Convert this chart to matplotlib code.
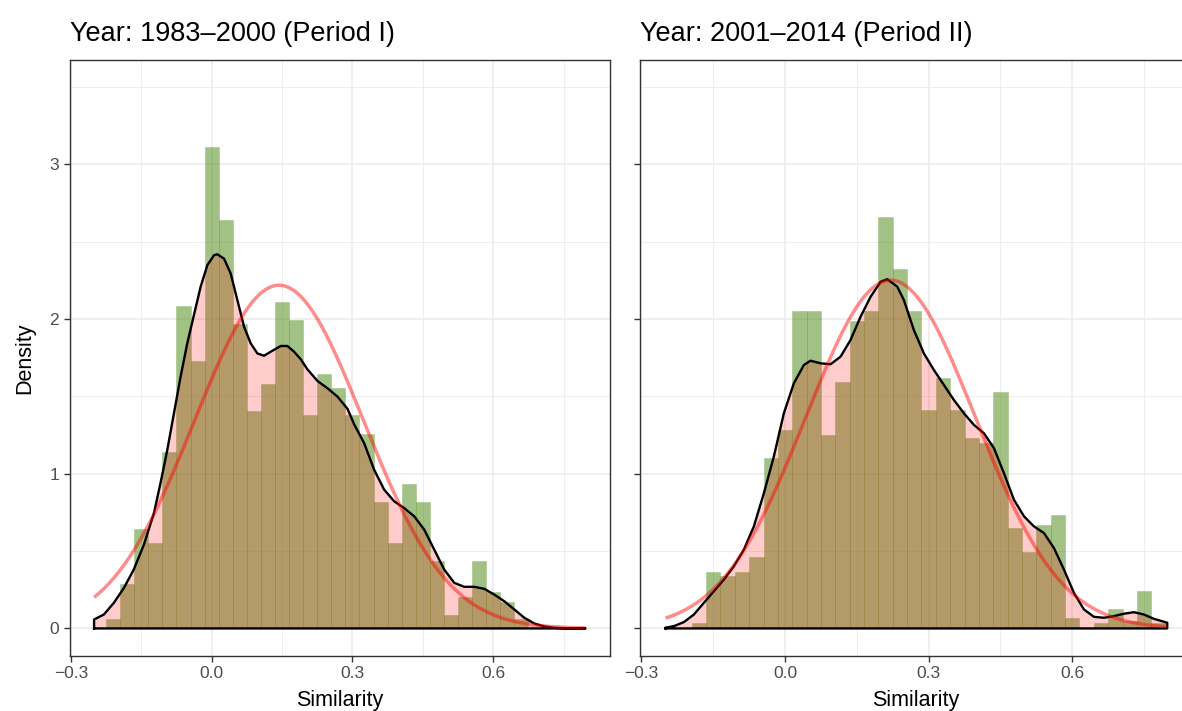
import numpy as np
import matplotlib
matplotlib.use("Agg")
import matplotlib.pyplot as plt
from matplotlib.ticker import MultipleLocator

plt.rcParams['font.family'] = ['Liberation Sans', 'DejaVu Sans']

# ---- data -------------------------------------------------------------
bin_width = 0.03

# Period I histogram (density scale)
p1_bin_start = -0.225
p1_hist = [0.058, 0.29, 0.645, 0.555, 1.142, 2.084, 1.731, 3.11, 2.639, 1.968,
           1.406, 1.581, 2.11, 1.994, 1.381, 1.645, 1.555, 1.381, 1.258, 0.819,
           0.555, 0.935, 0.819, 0.437, 0.09, 0.206, 0.437, 0.234, 0.174, 0.058]

# Period I kernel density estimate
p1_kde_x = [-0.2506, -0.2506, -0.2297, -0.2084, -0.187, -0.166, -0.1444, -0.123,
            -0.109, -0.0945, -0.0804, -0.0662, -0.052, -0.0378, -0.0235, -0.0093,
            0.005, 0.0121, 0.0263, 0.0405, 0.0548, 0.069, 0.0832, 0.0974, 0.1116,
            0.1259, 0.1472, 0.1614, 0.1757, 0.1899, 0.2041, 0.2255, 0.2468, 0.2681,
            0.2895, 0.3037, 0.325, 0.3463, 0.3677, 0.389, 0.4103, 0.4317, 0.453,
            0.4743, 0.4956, 0.517, 0.5383, 0.5596, 0.581, 0.6023, 0.6236, 0.645,
            0.6663, 0.6876, 0.709, 0.7303, 0.76, 0.7967, 0.7967]
p1_kde_y = [0.0, 0.058, 0.09, 0.166, 0.262, 0.381, 0.542, 0.746,
            0.94, 1.155, 1.391, 1.628, 1.843, 2.026, 2.209, 2.348,
            2.413, 2.419, 2.391, 2.295, 2.123, 1.951, 1.843, 1.778, 1.763,
            1.789, 1.826, 1.826, 1.789, 1.74, 1.675, 1.6, 1.553, 1.499,
            1.42, 1.32, 1.198, 1.026, 0.897, 0.822, 0.778, 0.725, 0.639,
            0.51, 0.381, 0.295, 0.269, 0.269, 0.256, 0.219, 0.176, 0.123,
            0.069, 0.032, 0.013, 0.004, 0.001, 0.0, 0.0]

# Period I normal fit
p1_mean, p1_sd = 0.1436, 0.1798

# Period II histogram (density scale)
p2_bin_start = -0.195
p2_hist = [0.032, 0.368, 0.338, 0.368, 0.46, 1.103, 1.284, 2.052, 2.052, 1.252,
           1.596, 1.987, 2.052, 2.658, 2.323, 2.052, 1.409, 1.619, 1.409, 1.228,
           1.198, 1.529, 0.647, 0.492, 0.669, 0.735, 0.065, 0.0, 0.034, 0.123,
           0.047, 0.245, 0.032]

# Period II kernel density estimate
p2_kde_x = [-0.2496, -0.2496, -0.2322, -0.2113, -0.1904, -0.1695, -0.1486, -0.1278,
            -0.1069, -0.086, -0.0651, -0.0442, -0.0234, -0.0025, 0.0184, 0.0393,
            0.0532, 0.0741, 0.095, 0.1159, 0.1368, 0.1577, 0.1786, 0.1995, 0.2134,
            0.2343, 0.2482, 0.2691, 0.29, 0.3109, 0.3318, 0.3527, 0.3736, 0.3945,
            0.4154, 0.4363, 0.4572, 0.4781, 0.499, 0.5198, 0.5407, 0.5616, 0.5825,
            0.6034, 0.6243, 0.6452, 0.6661, 0.687, 0.7078, 0.7287, 0.7496, 0.7705,
            0.7983, 0.7983]
p2_kde_y = [0.0, 0.005, 0.015, 0.041, 0.09, 0.166, 0.241, 0.316,
            0.402, 0.51, 0.66, 0.875, 1.112, 1.391, 1.585, 1.703,
            1.731, 1.714, 1.708, 1.757, 1.865, 2.015, 2.144, 2.241, 2.258,
            2.21, 2.123, 1.929, 1.778, 1.671, 1.574, 1.477, 1.391, 1.316,
            1.262, 1.166, 1.004, 0.832, 0.725, 0.66, 0.617, 0.52, 0.381,
            0.23, 0.123, 0.075, 0.069, 0.08, 0.095, 0.105, 0.09, 0.062,
            0.037, 0.0]

# Period II normal fit
p2_mean, p2_sd = 0.2204, 0.1772

titles = ["Year: 1983\u20132000 (Period I)", "Year: 2001\u20132014 (Period II)"]
x_label = "Similarity"
y_label = "Density"

# ---- styling ----------------------------------------------------------
W, H = 1182, 711
xlim = (-0.303, 0.849)
ylim = (-0.175, 3.675)
bar_color = (70 / 255, 133 / 255, 10 / 255, 0.5)
bar_edge = (70 / 255, 133 / 255, 10 / 255, 0.35)
fill_color = (1.0, 0.0, 0.0, 0.2)
norm_color = (1.0, 0.0, 0.0, 0.45)
grid_color = "#EBEBEB"
tick_text = "#4D4D4D"
frame = "#333333"

fig = plt.figure(figsize=(W / 100, H / 100), dpi=100)
bottom = (H - 655.5) / H
height = 595.5 / H
axL = fig.add_axes([69.5 / W, bottom, (610 - 69.5) / W, height])
axR = fig.add_axes([640 / W, bottom, 551.5 / W, height])


def draw_panel(ax, start, hist, kx, ky, mu, sd, title, show_ylabels):
    lefts = start + bin_width * np.arange(len(hist))
    ax.bar(lefts, hist, width=bin_width, align="edge", color=bar_color,
           edgecolor=bar_edge, linewidth=0.4, zorder=2)
    ax.fill(kx, ky, facecolor=fill_color, edgecolor="none", zorder=3)
    ax.plot(kx + [kx[0]], ky + [ky[0]], color="black", lw=1.7, zorder=4,
            solid_joinstyle="round")
    xs = np.linspace(kx[0], kx[-1], 300)
    ax.plot(xs, np.exp(-0.5 * ((xs - mu) / sd) ** 2) / (sd * np.sqrt(2 * np.pi)),
            color=norm_color, lw=2.5, zorder=5, solid_capstyle="butt")

    ax.set_xlim(*xlim)
    ax.set_ylim(*ylim)
    ax.xaxis.set_major_locator(MultipleLocator(0.3))
    ax.xaxis.set_minor_locator(MultipleLocator(0.15))
    ax.yaxis.set_major_locator(MultipleLocator(1))
    ax.yaxis.set_minor_locator(MultipleLocator(0.5))
    ax.xaxis.set_major_formatter(lambda v, p: f"{v:.1f}".replace("-", "\u2212"))
    ax.grid(which="major", color=grid_color, lw=1.1, zorder=0)
    ax.grid(which="minor", color=grid_color, lw=0.6, zorder=0)
    ax.set_axisbelow(True)
    for s in ax.spines.values():
        s.set_color(frame)
        s.set_linewidth(1.0)
    ax.tick_params(which="major", length=4, width=1.0, color=frame,
                   labelsize=12.5, labelcolor=tick_text, pad=3.5)
    ax.tick_params(which="minor", length=0)
    if not show_ylabels:
        ax.tick_params(axis="y", labelleft=False)
    ax.set_xlabel(x_label, fontsize=15.5, labelpad=6.5)
    ax.set_title(title, loc="left", fontsize=19.5, pad=14)


draw_panel(axL, p1_bin_start, p1_hist, p1_kde_x, p1_kde_y, p1_mean, p1_sd,
           titles[0], True)
draw_panel(axR, p2_bin_start, p2_hist, p2_kde_x, p2_kde_y, p2_mean, p2_sd,
           titles[1], False)
axL.set_ylabel(y_label, fontsize=15.5, labelpad=10)

fig.savefig("out.png", dpi=100)
